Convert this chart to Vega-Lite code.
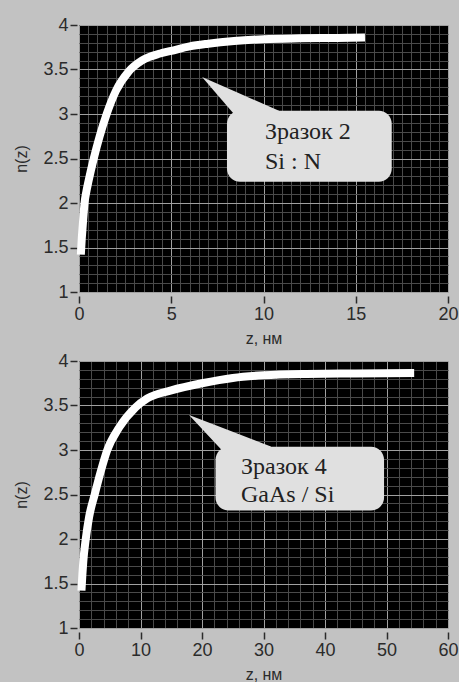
{
  "$schema": "https://vega.github.io/schema/vega-lite/v6.json",
  "background": "#c2c2c2",
  "padding": {"left": 13, "top": 16, "right": 0, "bottom": 0},
  "spacing": 6,
  "config": {
    "view": {"fill": "#000000", "stroke": null},
    "axis": {
      "labelFont": "Liberation Sans", "labelFontSize": 18, "labelColor": "#2b2b2b",
      "titleFont": "Liberation Sans", "titleFontSize": 16, "titleFontWeight": "normal", "titleColor": "#2b2b2b",
      "domain": false, "ticks": true, "tickWidth": 1.5, "tickSize": 7,
      "labelOverlap": false, "labelFlush": false, "labelBound": false, "gridWidth": 1
    }
  },
  "datasets": {
    "curve2": [
      {"z": 0.1, "n": 1.42}, {"z": 0.15, "n": 1.6}, {"z": 0.2, "n": 1.74}, {"z": 0.3, "n": 2.0},
      {"z": 0.4, "n": 2.13}, {"z": 0.52, "n": 2.25}, {"z": 0.8, "n": 2.5}, {"z": 1.12, "n": 2.75},
      {"z": 1.5, "n": 3.0}, {"z": 2.0, "n": 3.26}, {"z": 2.7, "n": 3.48}, {"z": 3.4, "n": 3.6},
      {"z": 4.4, "n": 3.68}, {"z": 5.0, "n": 3.71}, {"z": 6.0, "n": 3.76}, {"z": 7.0, "n": 3.79},
      {"z": 8.4, "n": 3.82}, {"z": 10.0, "n": 3.84}, {"z": 12.0, "n": 3.85}, {"z": 14.0, "n": 3.855},
      {"z": 15.5, "n": 3.86}
    ],
    "pointer2": [
      {"z": 6.67, "n": 3.417, "n2": 3.417},
      {"z": 8.4, "n": 3.259, "n2": 3.0},
      {"z": 10.84, "n": 3.036, "n2": 3.0}
    ],
    "box2": [{"z": 8.02, "z2": 16.95, "n": 3.036, "n2": 2.24}],
    "label2": [
      {"z": 10.08, "n": 2.722, "text": "Зразок 2"},
      {"z": 10.08, "n": 2.386, "text": "Si : N"}
    ],
    "curve4": [
      {"z": 0.4, "n": 1.42}, {"z": 0.55, "n": 1.6}, {"z": 0.7, "n": 1.75}, {"z": 1.1, "n": 2.0},
      {"z": 1.65, "n": 2.25}, {"z": 2.55, "n": 2.5}, {"z": 3.5, "n": 2.75}, {"z": 4.6, "n": 3.0},
      {"z": 6.5, "n": 3.25}, {"z": 9.2, "n": 3.48}, {"z": 11.1, "n": 3.58}, {"z": 15.0, "n": 3.67},
      {"z": 20.0, "n": 3.75}, {"z": 25.0, "n": 3.81}, {"z": 30.0, "n": 3.84}, {"z": 37.0, "n": 3.855},
      {"z": 45.0, "n": 3.86}, {"z": 54.5, "n": 3.865}
    ],
    "pointer4": [
      {"z": 17.89, "n": 3.393, "n2": 3.393},
      {"z": 23.2, "n": 3.252, "n2": 3.0},
      {"z": 31.2, "n": 3.04, "n2": 3.0}
    ],
    "box4": [{"z": 22.2, "z2": 49.6, "n": 3.036, "n2": 2.32}],
    "label4": [
      {"z": 26.34, "n": 2.729, "text": "Зразок 4"},
      {"z": 26.34, "n": 2.414, "text": "GaAs / Si"}
    ]
  },
  "vconcat": [
    {
      "width": 369, "height": 267,
      "encoding": {
        "x": {"field": "z", "type": "quantitative", "scale": {"domain": [0, 20], "nice": false},
          "axis": {"title": "z, нм", "offset": 4, "labelPadding": 2, "titlePadding": 7,
            "values": [0,0.5,1,1.5,2,2.5,3,3.5,4,4.5,5,5.5,6,6.5,7,7.5,8,8.5,9,9.5,10,10.5,11,11.5,12,12.5,13,13.5,14,14.5,15,15.5,16,16.5,17,17.5,18,18.5,19,19.5,20],
            "labelExpr": "datum.value % 5 === 0 ? format(datum.value, '~g') : ''",
            "gridColor": {"condition": {"test": "datum.value % 5 === 0", "value": "#a0a0a0"}, "value": "#4a4a4a"},
            "tickColor": {"condition": {"test": "datum.value % 5 === 0", "value": "#2b2b2b"}, "value": "rgba(0,0,0,0)"}}},
        "y": {"field": "n", "type": "quantitative", "stack": null, "scale": {"domain": [1, 4], "nice": false, "zero": false},
          "axis": {"title": "n(z)", "offset": 2, "labelPadding": 2, "titlePadding": 13,
            "values": [1,1.1,1.2,1.3,1.4,1.5,1.6,1.7,1.8,1.9,2,2.1,2.2,2.3,2.4,2.5,2.6,2.7,2.8,2.9,3,3.1,3.2,3.3,3.4,3.5,3.6,3.7,3.8,3.9,4],
            "labelExpr": "abs(datum.value*2 - round(datum.value*2)) < 0.001 ? format(datum.value, '~g') : ''",
            "gridColor": {"condition": {"test": "abs(datum.value*2 - round(datum.value*2)) < 0.001", "value": "#a0a0a0"}, "value": "#4a4a4a"},
            "tickColor": {"condition": {"test": "abs(datum.value*2 - round(datum.value*2)) < 0.001", "value": "#2b2b2b"}, "value": "rgba(0,0,0,0)"}}}
      },
      "layer": [
        {"data": {"name": "curve2"}, "mark": {"type": "line", "color": "#ffffff", "strokeWidth": 8, "strokeCap": "butt", "interpolate": "monotone"}},
        {"data": {"name": "pointer2"}, "mark": {"type": "area", "color": "#e0e0e0", "opacity": 1}, "encoding": {"y2": {"field": "n2"}}},
        {"data": {"name": "box2"}, "mark": {"type": "rect", "color": "#e0e0e0", "cornerRadius": 13}, "encoding": {"x2": {"field": "z2"}, "y2": {"field": "n2"}}},
        {"data": {"name": "label2"}, "mark": {"type": "text", "font": "Liberation Serif", "fontSize": 24, "align": "left", "baseline": "alphabetic", "color": "#222222"}, "encoding": {"text": {"field": "text"}}}
      ]
    },
    {
      "width": 369, "height": 267,
      "encoding": {
        "x": {"field": "z", "type": "quantitative", "scale": {"domain": [0, 60], "nice": false},
          "axis": {"title": "z, нм", "offset": 4, "labelPadding": 2, "titlePadding": 7,
            "values": [0,2,4,6,8,10,12,14,16,18,20,22,24,26,28,30,32,34,36,38,40,42,44,46,48,50,52,54,56,58,60],
            "labelExpr": "datum.value % 10 === 0 ? format(datum.value, '~g') : ''",
            "gridColor": {"condition": {"test": "datum.value % 10 === 0", "value": "#a0a0a0"}, "value": "#4a4a4a"},
            "tickColor": {"condition": {"test": "datum.value % 10 === 0", "value": "#2b2b2b"}, "value": "rgba(0,0,0,0)"}}},
        "y": {"field": "n", "type": "quantitative", "stack": null, "scale": {"domain": [1, 4], "nice": false, "zero": false},
          "axis": {"title": "n(z)", "offset": 2, "labelPadding": 2, "titlePadding": 13,
            "values": [1,1.1,1.2,1.3,1.4,1.5,1.6,1.7,1.8,1.9,2,2.1,2.2,2.3,2.4,2.5,2.6,2.7,2.8,2.9,3,3.1,3.2,3.3,3.4,3.5,3.6,3.7,3.8,3.9,4],
            "labelExpr": "abs(datum.value*2 - round(datum.value*2)) < 0.001 ? format(datum.value, '~g') : ''",
            "gridColor": {"condition": {"test": "abs(datum.value*2 - round(datum.value*2)) < 0.001", "value": "#a0a0a0"}, "value": "#4a4a4a"},
            "tickColor": {"condition": {"test": "abs(datum.value*2 - round(datum.value*2)) < 0.001", "value": "#2b2b2b"}, "value": "rgba(0,0,0,0)"}}}
      },
      "layer": [
        {"data": {"name": "curve4"}, "mark": {"type": "line", "color": "#ffffff", "strokeWidth": 8, "strokeCap": "butt", "interpolate": "monotone"}},
        {"data": {"name": "pointer4"}, "mark": {"type": "area", "color": "#e0e0e0", "opacity": 1}, "encoding": {"y2": {"field": "n2"}}},
        {"data": {"name": "box4"}, "mark": {"type": "rect", "color": "#e0e0e0", "cornerRadius": 13}, "encoding": {"x2": {"field": "z2"}, "y2": {"field": "n2"}}},
        {"data": {"name": "label4"}, "mark": {"type": "text", "font": "Liberation Serif", "fontSize": 24, "align": "left", "baseline": "alphabetic", "color": "#222222"}, "encoding": {"text": {"field": "text"}}}
      ]
    }
  ]
}
